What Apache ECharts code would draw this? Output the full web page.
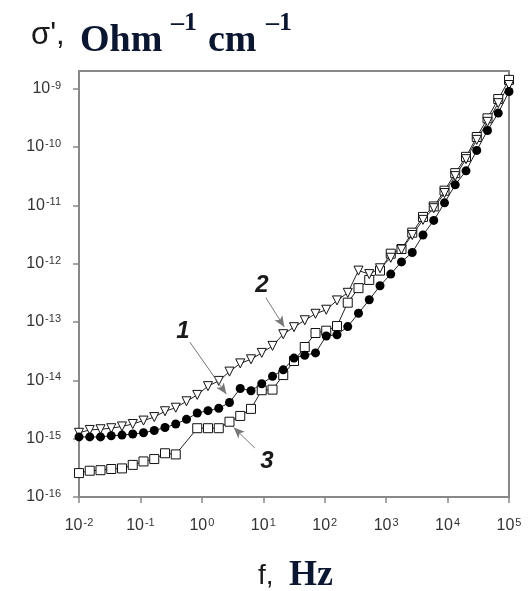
<!DOCTYPE html>
<html>
<head>
<meta charset="utf-8">
<script src="https://cdn.jsdelivr.net/npm/echarts@6/dist/echarts.min.js"></script>
<style>
  html, body { margin: 0; padding: 0; background: #fff; }
  #chart { width: 532px; height: 591px; }
</style>
</head>
<body>
<div id="chart"></div>
<script>
// frequency points, Hz (log spaced)
const freq = [0.01, 0.01496, 0.02239, 0.0335, 0.0501, 0.075, 0.1122, 0.1679, 0.2512, 0.3758,
  0.5623, 0.8414, 1.259, 1.884, 2.818, 4.217, 6.31, 9.44, 14.13, 21.13,
  31.62, 47.32, 70.8, 105.9, 158.5, 237.1, 354.8, 530.9, 794.3, 1189,
  1778, 2661, 3981, 5957, 8913, 13335, 19953, 29854, 44668, 66834, 100000]

// curve 1 - filled circles
const sigma1 = [1.07e-15, 1.07e-15, 1.07e-15, 1.12e-15, 1.15e-15, 1.20e-15, 1.26e-15, 1.38e-15, 1.55e-15, 1.78e-15,
  2.14e-15, 2.75e-15, 3.02e-15, 3.31e-15, 4.17e-15, 7.24e-15, 6.61e-15, 8.71e-15, 1.17e-14, 1.51e-14,
  2.40e-14, 2.69e-14, 2.95e-14, 5.75e-14, 6.03e-14, 8.32e-14, 1.41e-13, 2.40e-13, 4.17e-13, 6.61e-13,
  1.07e-12, 1.55e-12, 3.09e-12, 5.50e-12, 1.10e-11, 2.24e-11, 3.89e-11, 8.71e-11, 1.91e-10, 3.80e-10, 8.91e-10]

// curve 2 - open triangles
const sigma2 = [1.26e-15, 1.41e-15, 1.45e-15, 1.51e-15, 1.62e-15, 1.78e-15, 2.04e-15, 2.34e-15, 2.95e-15, 3.39e-15,
  4.37e-15, 5.62e-15, 7.94e-15, 9.77e-15, 1.41e-14, 1.95e-14, 2.29e-14, 2.95e-14, 3.89e-14, 6.17e-14,
  8.13e-14, 1.07e-13, 1.38e-13, 1.62e-13, 2.34e-13, 3.16e-13, 7.59e-13, 6.61e-13, 8.32e-13, 1.26e-12,
  1.74e-12, 3.09e-12, 5.62e-12, 8.91e-12, 1.62e-11, 3.16e-11, 6.17e-11, 1.32e-10, 2.69e-10, 5.62e-10, 1.15e-9]

// curve 3 - open squares (one point not shown)
const sigma3 = [2.57e-16, 2.82e-16, 2.88e-16, 3.02e-16, 3.09e-16, 3.55e-16, 4.07e-16, 4.47e-16, 5.62e-16, 5.37e-16,
  null, 1.51e-15, 1.51e-15, 1.51e-15, 1.95e-15, 2.45e-15, 3.24e-15, 6.76e-15, 6.92e-15, 1.23e-14,
  2.14e-14, 3.72e-14, 6.46e-14, 7.08e-14, 8.51e-14, 2.14e-13, 3.80e-13, 5.25e-13, 7.59e-13, 1.48e-12,
  1.78e-12, 3.39e-12, 6.31e-12, 9.55e-12, 1.78e-11, 3.55e-11, 6.76e-11, 1.48e-10, 3.09e-10, 6.61e-10, 1.41e-9]

const xTicks = [1e-2, 1e-1, 1e0, 1e1, 1e2, 1e3, 1e4, 1e5]
const yTicks = [1e-16, 1e-15, 1e-14, 1e-13, 1e-12, 1e-11, 1e-10, 1e-9]

// curve labels and arrows, in data coords [f, sigma]
const curveLabels = [
  { name: '1', at: [0.49, 6.8e-14], from: [0.64, 4.5e-14], to: [2.5, 5.8e-15] },
  { name: '2', at: [9.5, 4.3e-13], from: [11.0, 2.6e-13], to: [22.0, 8.2e-14] },
  { name: '3', at: [11.5, 4.0e-16], from: [7.3, 6.9e-16], to: [3.3, 1.55e-15] }
]

const chart = echarts.init(document.getElementById('chart'))

const powLabel = v => '{b|10}{s|' + Math.round(Math.log10(v)) + '}'
const labelRich = {
  b: { fontSize: 16, fontFamily: 'Liberation Sans', color: '#333' },
  s: { fontSize: 11, fontFamily: 'Liberation Sans', color: '#333', verticalAlign: 'top', padding: [0, 0, 6, 1] }
}
const frame = '#888'
const lineCol = '#222'

const pairs = arr => freq.map((f, i) => [f, arr[i] == null ? '-' : arr[i]])

const option = {
  animation: false,
  backgroundColor: '#fff',
  grid: { left: 79, right: 23, top: 71, bottom: 94, show: true, borderColor: frame, borderWidth: 2 },
  xAxis: {
    type: 'log', logBase: 10, min: 0.01, max: 1e5,
    axisLine: { show: false },
    axisTick: { show: true, length: 6, lineStyle: { color: frame, width: 1.5 }, customValues: xTicks },
    axisLabel: { margin: 20, customValues: xTicks, formatter: powLabel, rich: labelRich },
    splitLine: { show: false }
  },
  yAxis: {
    type: 'log', logBase: 10, min: 1e-16, max: 2e-9,
    axisLine: { show: false },
    axisTick: { show: true, length: 6, lineStyle: { color: frame, width: 1.5 }, customValues: yTicks },
    axisLabel: { margin: 18, customValues: yTicks, formatter: powLabel, rich: labelRich },
    splitLine: { show: false }
  },
  series: [
    {
      type: 'line', data: pairs(sigma3), symbol: 'rect', symbolSize: 9, connectNulls: true,
      lineStyle: { color: lineCol, width: 1 },
      itemStyle: { color: '#fff', borderColor: '#111', borderWidth: 1 }
    },
    {
      type: 'line', data: pairs(sigma2), symbol: 'triangle', symbolRotate: 180, symbolSize: 9,
      lineStyle: { color: lineCol, width: 1 },
      itemStyle: { color: '#fff', borderColor: '#111', borderWidth: 1 }
    },
    {
      type: 'line', data: pairs(sigma1), symbol: 'circle', symbolSize: 9,
      lineStyle: { color: lineCol, width: 1 },
      itemStyle: { color: '#000' },
      markLine: {
        silent: true, symbol: ['none', 'arrow'], symbolSize: [7, 11],
        label: { show: false },
        lineStyle: { color: '#777', width: 1, type: 'solid' },
        data: curveLabels.map(c => [{ coord: c.from }, { coord: c.to }])
      },
      markPoint: {
        silent: true, symbol: 'circle', symbolSize: 1,
        itemStyle: { color: 'rgba(0,0,0,0)' },
        label: {
          show: true, position: 'inside', formatter: '{b}',
          fontFamily: 'Liberation Sans', fontSize: 24, fontWeight: 'bold', fontStyle: 'italic', color: '#1a1a1a'
        },
        data: curveLabels.map(c => ({ name: c.name, coord: c.at }))
      }
    }
  ],
  graphic: [
    { type: 'text', x: 31, y: 35, style: { text: "σ',", font: '31px "Liberation Sans"', fill: '#1a1a1a', verticalAlign: 'middle' } },
    { type: 'text', x: 80, y: 41, style: { text: 'Ohm', font: 'bold 38px "Liberation Serif"', fill: '#0b1730', verticalAlign: 'middle' } },
    { type: 'text', x: 171, y: 23, style: { text: '\u20131', font: 'bold 26px "Liberation Serif"', fill: '#0b1730', verticalAlign: 'middle' } },
    { type: 'text', x: 208, y: 41, style: { text: 'cm', font: 'bold 38px "Liberation Serif"', fill: '#0b1730', verticalAlign: 'middle' } },
    { type: 'text', x: 266, y: 23, style: { text: '\u20131', font: 'bold 26px "Liberation Serif"', fill: '#0b1730', verticalAlign: 'middle' } },
    { type: 'text', x: 258, y: 576, style: { text: 'f,', font: '28px "Liberation Sans"', fill: '#1a1a1a', verticalAlign: 'middle' } },
    { type: 'text', x: 289, y: 576, style: { text: 'Hz', font: 'bold 36px "Liberation Serif"', fill: '#0b1730', verticalAlign: 'middle' } }
  ]
}

chart.setOption(option)
</script>
</body>
</html>
